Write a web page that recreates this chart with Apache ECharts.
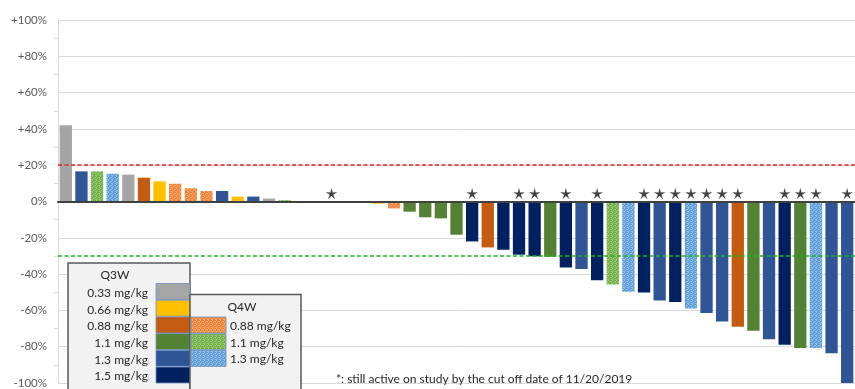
<!DOCTYPE html>
<html>
<head>
<meta charset="utf-8">
<script src="https://cdn.jsdelivr.net/npm/echarts@6/dist/echarts.min.js"></script>
<style>
html,body{margin:0;padding:0;background:#fff;}
#c{width:855px;height:389px;}
</style>
</head>
<body>
<div id="c"></div>
<script>
// ---- data ----
const patients = Array.from({length: 51}, (_, i) => 'P' + (i + 1));
const changes = [42, 16.6, 16.6, 15.3, 14.8, 13.1, 11.1, 9.8, 7.3, 5.8, 5.8, 2.7, 2.7, 1.6, 0.7,
  0, 0, 0, 0, 0,
  -1.2, -3.8, -5.6, -8.7, -9.3, -18.3, -22, -25.3, -26.6, -29.3, -30.2, -30.5, -36.3, -37.2, -43.4,
  -45.7, -49.7, -50.1, -54.6, -55.4, -59, -61.4, -66.1, -69, -71.2, -75.9, -78.9, -80.7, -80.7, -83.6, -100];
// dose group codes
const groups = ['Q3W_0.33','Q3W_1.3','Q4W_1.1','Q4W_1.3','Q3W_0.33','Q3W_0.88','Q3W_0.66','Q4W_0.88','Q4W_0.88','Q4W_0.88',
  'Q3W_1.3','Q3W_0.66','Q3W_1.3','Q3W_0.33','Q4W_1.1',
  'Q3W_1.1','Q3W_1.1','Q3W_1.1','Q3W_1.1','Q3W_1.1',
  'Q3W_0.66','Q4W_0.88','Q3W_1.1','Q3W_1.1','Q3W_1.1','Q3W_1.1','Q3W_1.5','Q3W_0.88','Q3W_1.5','Q3W_1.5',
  'Q3W_1.5','Q3W_1.1','Q3W_1.5','Q3W_1.3','Q3W_1.5','Q4W_1.1','Q4W_1.3','Q3W_1.5','Q3W_1.3','Q3W_1.5',
  'Q4W_1.3','Q3W_1.3','Q3W_1.3','Q3W_0.88','Q3W_1.1','Q3W_1.3','Q3W_1.5','Q3W_1.1','Q4W_1.3','Q3W_1.3','Q3W_1.3'];
const active = [0,0,0,0,0,0,0,0,0,0,0,0,0,0,0, 0,0,1,0,0,
  0,0,0,0,0,0,1,0,0,1,1,0,1,0,1,0,0,1,1,1,1,1,1,1,0,0,1,1,1,0,1];
const upperRef = 20;
const lowerRef = -30;
const yTicks = [-100, -80, -60, -40, -20, 0, 20, 40, 60, 80, 100];
const q3wLegend = ['Q3W_0.33','Q3W_0.66','Q3W_0.88','Q3W_1.1','Q3W_1.3','Q3W_1.5'];
const q4wLegend = ['Q4W_0.88','Q4W_1.1','Q4W_1.3'];
const footnote = '*: still active on study by the cut off date of 11/20/2019';

// ---- styles ----
function speckle(base, dot) {
  const c = document.createElement('canvas');
  c.width = 4; c.height = 4;
  const x = c.getContext('2d');
  x.fillStyle = base; x.fillRect(0, 0, 4, 4);
  x.fillStyle = dot;
  [[0,0],[2,1],[1,2],[3,3],[0,3],[3,1]].forEach(p => x.fillRect(p[0], p[1], 1, 1));
  return {image: c, repeat: 'repeat'};
}
const colors = {
  'Q3W_0.33': '#a5a5a5',
  'Q3W_0.66': '#ffc000',
  'Q3W_0.88': '#c55a11',
  'Q3W_1.1': '#548235',
  'Q3W_1.3': '#2f5597',
  'Q3W_1.5': '#002060',
  'Q4W_0.88': speckle('#ee8238', '#f5a86f'),
  'Q4W_1.1': speckle('#72ae48', '#9ccb7b'),
  'Q4W_1.3': speckle('#5d9cd6', '#93c0e8')
};
const labelOf = g => g.split('_')[1] + ' mg/kg';

function starPath() {
  const pts = [];
  for (let k = 0; k < 10; k++) {
    const r = k % 2 === 0 ? 10 : 3.1;
    const a = (-90 + k * 36) * Math.PI / 180;
    pts.push((r * Math.cos(a)).toFixed(2) + ' ' + (r * Math.sin(a)).toFixed(2));
  }
  return 'path://M' + pts.join(' L') + ' Z';
}

const font = 'Lato, "Open Sans", sans-serif';
const chart = echarts.init(document.getElementById('c'));

// legend graphics
const graphics = [];
graphics.push({type: 'rect', shape: {x: 68, y: 263, width: 122, height: 140},
  style: {fill: '#f2f2f2', stroke: '#595959', lineWidth: 1.5}, z: 100});
graphics.push({type: 'text', x: 115, y: 275, style: {text: 'Q3W', font: '12px ' + font, fill: '#262626', align: 'center', verticalAlign: 'middle'}, z: 101});
q3wLegend.forEach((g, i) => {
  const y = 283.5 + i * 16.7;
  graphics.push({type: 'rect', shape: {x: 156, y: y, width: 34, height: 16}, style: {fill: colors[g], stroke: '#6e8fc2', lineWidth: 0.8}, z: 102});
  graphics.push({type: 'text', x: 148, y: y + 9.5, style: {text: labelOf(g), font: '12px ' + font, fill: '#262626', align: 'right', verticalAlign: 'middle'}, z: 101});
});
graphics.push({type: 'rect', shape: {x: 190, y: 294.5, width: 111, height: 110},
  style: {fill: '#f2f2f2', stroke: '#595959', lineWidth: 1.5}, z: 103});
graphics.push({type: 'text', x: 242, y: 307, style: {text: 'Q4W', font: '12px ' + font, fill: '#262626', align: 'center', verticalAlign: 'middle'}, z: 104});
q4wLegend.forEach((g, i) => {
  const y = 317 + i * 16.7;
  graphics.push({type: 'rect', shape: {x: 191, y: y, width: 35, height: 16}, style: {fill: colors[g], stroke: '#6e8fc2', lineWidth: 0.8}, z: 105});
  graphics.push({type: 'text', x: 230, y: y + 9, style: {text: labelOf(g), font: '12px ' + font, fill: '#262626', align: 'left', verticalAlign: 'middle'}, z: 104});
});
graphics.push({type: 'text', x: 336, y: 379, style: {text: footnote, font: '12px ' + font, fill: '#262626', align: 'left', verticalAlign: 'middle'}, z: 101});

chart.setOption({
  animation: false,
  textStyle: {fontFamily: font},
  grid: {left: 58, right: -3, top: 20, bottom: 2, containLabel: false},
  xAxis: {
    type: 'category', data: patients,
    axisLine: {onZero: true, lineStyle: {color: '#404040', width: 2}},
    axisTick: {show: false}, axisLabel: {show: false}, splitLine: {show: false}, z: 5
  },
  yAxis: {
    type: 'value', min: yTicks[0], max: yTicks[yTicks.length - 1], interval: 20,
    axisLine: {show: true, lineStyle: {color: '#d9d9d9', width: 1}},
    axisTick: {show: false},
    minorTick: {show: true, splitNumber: 2, length: 4, lineStyle: {color: '#d9d9d9'}},
    splitLine: {lineStyle: {color: '#d9d9d9', width: 1}},
    axisLabel: {color: '#595959', fontSize: 11.5, margin: 11,
      formatter: v => (v > 0 ? '+' : '') + v + '%'}
  },
  series: [
    {
      type: 'bar', barWidth: 12.3,
      data: changes.map((v, i) => ({value: v, itemStyle: {color: colors[groups[i]]}})),
      markLine: {
        silent: true, symbol: 'none', label: {show: false}, z: 10,
        data: [
          {yAxis: upperRef, lineStyle: {color: '#e02424', type: [4, 2.5], width: 1.5}},
          {yAxis: lowerRef, lineStyle: {color: '#1fb41f', type: [4, 2.5], width: 1.5}}
        ]
      }
    },
    {
      type: 'scatter', symbol: starPath(), symbolSize: 11.5, symbolOffset: [0, -8],
      itemStyle: {color: '#111'}, z: 6,
      data: active.map((a, i) => a ? [i, 0] : null).filter(d => d)
    }
  ],
  graphic: graphics
});
</script>
</body>
</html>
